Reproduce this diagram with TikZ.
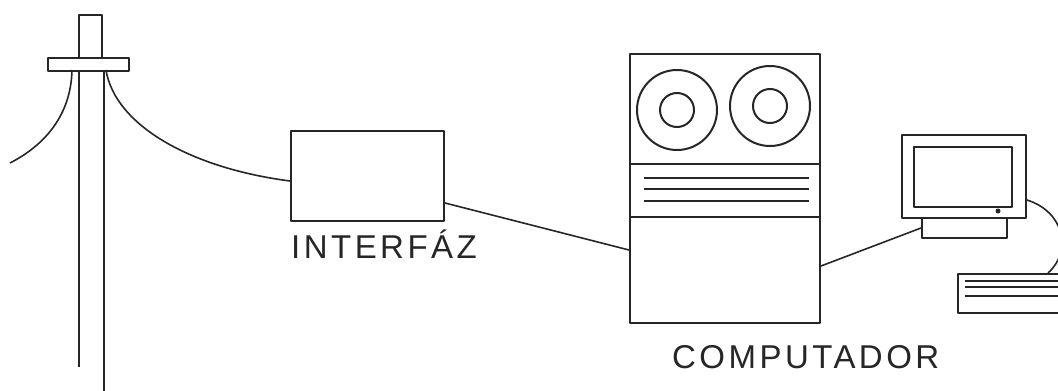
\documentclass[tikz,border=0pt]{standalone}
\usepackage{fontspec}
\setmainfont{Liberation Sans}
\usetikzlibrary{calc}
\begin{document}
\begin{tikzpicture}[x=1pt,y=-1pt,line join=round,
  ink/.style={line width=2pt,draw=black!85},
  unit/.style={ink,rectangle,inner sep=0pt,anchor=north west},
  wire/.style={line width=1.6pt,draw=black!85},
  caption/.style={font=\fontsize{33}{33}\selectfont\addfontfeature{LetterSpace=10.5},inner sep=0pt,anchor=base west,text=black!85}]
\useasboundingbox (0,0) rectangle (1058,391);

% utility pole
\draw[ink] (79,57) -- (79,15) -- (102,15) -- (102,57);
\node[unit,minimum width=81pt,minimum height=13pt] (bar) at (47,57) {};
\draw[ink] (79,70) -- (79,367);
\draw[ink] (104,70) -- (104,391);

% interface box
\node[unit,minimum width=153pt,minimum height=90pt] (iface) at (290,130) {};
\node[caption] (ifacelbl) at (291,258) {INTERFÁZ};

% computer cabinet with tape reels
\node[unit,minimum width=190pt,minimum height=269pt] (comp) at (629,53) {};
\draw[ink] (comp.west |- 0,164) -- (comp.east |- 0,164);
\draw[ink] (comp.west |- 0,217) -- (comp.east |- 0,217);
\foreach \yy in {178,189,201} \draw[ink] (644,\yy) -- (809,\yy);
\node[ink,circle,minimum size=80pt,inner sep=0pt] (reelA) at (677,110) {};
\node[ink,circle,minimum size=34pt,inner sep=0pt] (hubA) at (reelA) {};
\node[ink,circle,minimum size=80pt,inner sep=0pt] (reelB) at (770,106) {};
\node[ink,circle,minimum size=34pt,inner sep=0pt] (hubB) at (reelB) {};
\node[caption] (complbl) at (672,368) {COMPUTADOR};

% terminal: monitor, stand and keyboard
\node[unit,minimum width=124pt,minimum height=83pt] (mon) at (901,134) {};
\node[unit,minimum width=98pt,minimum height=60pt] (screen) at (913,146) {};
\fill[black!85] (998,211) circle (2.5pt);
\node[unit,minimum width=85pt,minimum height=20pt] (stand) at (921,217) {};
\node[unit,minimum width=120pt,minimum height=39pt] (kbd) at (957,273) {};
\foreach \yy in {281,287,296} \draw[ink] (965,\yy) -- (1060,\yy);

% cables
\coordinate (dropL) at (10,163);
\coordinate (barL) at (72,70);
\coordinate (barR) at (106,70);
\coordinate (ifaceIn) at (iface.west |- 0,181);
\coordinate (ifaceOut) at (iface.east |- 0,203);
\coordinate (compIn) at (comp.west |- 0,250);
\coordinate (compOut) at (comp.east |- 0,266);
\coordinate (standIn) at (stand.west |- 0,228);
\coordinate (monOut) at (mon.east |- 0,200);
\coordinate (kbdIn) at (kbd.north west -| 1048,0);
\draw[wire] (barL) .. controls (71,115) and (45,145) .. (dropL);
\draw[wire] (barR) .. controls (115,125) and (190,168) .. (ifaceIn);
\draw[wire] (ifaceOut) -- (compIn);
\draw[wire] (compOut) -- (standIn);
\draw[wire] (monOut) .. controls (1065,212) and (1072,252) .. (kbdIn);
\end{tikzpicture}
\end{document}
